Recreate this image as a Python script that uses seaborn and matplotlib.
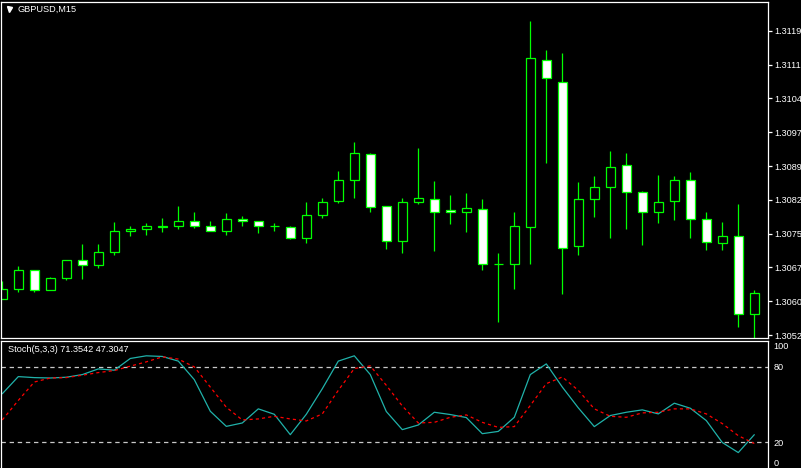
import numpy as np
import pandas as pd
import matplotlib
matplotlib.use("Agg")
import matplotlib.pyplot as plt
import matplotlib.transforms as mtransforms
import seaborn as sns

# ---------------- data ----------------
opens = [1.30601, 1.30623, 1.30664, 1.30620, 1.30647, 1.30686, 1.30675, 1.30704,
         1.30750, 1.30755, 1.30759, 1.30763, 1.30774, 1.30761, 1.30750, 1.30777,
         1.30772, 1.30761, 1.30759, 1.30736, 1.30786, 1.30816, 1.30863, 1.30920,
         1.30805, 1.30730, 1.30814, 1.30821, 1.30797, 1.30792, 1.30799, 1.30678,
         1.30678, 1.30759, 1.31127, 1.31080, 1.30717, 1.30821, 1.30847, 1.30896,
         1.30836, 1.30792, 1.30816, 1.30863, 1.30777, 1.30724, 1.30741, 1.30568]
highs = [1.30641, 1.30674, 1.30665, 1.30650, 1.30686, 1.30722, 1.30722, 1.30770,
         1.30763, 1.30768, 1.30779, 1.30805, 1.30792, 1.30772, 1.30790, 1.30783,
         1.30774, 1.30768, 1.30763, 1.30814, 1.30823, 1.30882, 1.30946, 1.30922,
         1.30805, 1.30823, 1.30933, 1.30860, 1.30830, 1.30834, 1.30821, 1.30702,
         1.30792, 1.31213, 1.31149, 1.31143, 1.30858, 1.30871, 1.30926, 1.30922,
         1.30838, 1.30874, 1.30871, 1.30880, 1.30792, 1.30770, 1.30811, 1.30620]
lows = [1.30601, 1.30617, 1.30617, 1.30620, 1.30642, 1.30646, 1.30670, 1.30698,
        1.30741, 1.30743, 1.30749, 1.30756, 1.30758, 1.30750, 1.30743, 1.30763,
        1.30747, 1.30752, 1.30734, 1.30725, 1.30780, 1.30813, 1.30824, 1.30793,
        1.30712, 1.30703, 1.30811, 1.30708, 1.30767, 1.30749, 1.30664, 1.30551,
        1.30624, 1.30678, 1.30901, 1.30613, 1.30697, 1.30782, 1.30736, 1.30756,
        1.30721, 1.30769, 1.30776, 1.30736, 1.30710, 1.30710, 1.30539, 1.30516]
closes = [1.30623, 1.30664, 1.30620, 1.30647, 1.30686, 1.30675, 1.30704, 1.30750,
          1.30755, 1.30761, 1.30763, 1.30774, 1.30763, 1.30750, 1.30777, 1.30772,
          1.30763, 1.30761, 1.30736, 1.30786, 1.30814, 1.30863, 1.30922, 1.30803,
          1.30730, 1.30814, 1.30823, 1.30792, 1.30792, 1.30801, 1.30678, 1.30678,
          1.30761, 1.31131, 1.31087, 1.30713, 1.30821, 1.30847, 1.30891, 1.30836,
          1.30792, 1.30814, 1.30863, 1.30777, 1.30726, 1.30741, 1.30568, 1.30614]

stoch_k = [58.7, 72.3, 71.5, 71.2, 71.8, 73.9, 78.4, 77.4, 86.7, 88.8, 88.3, 84.6,
           69.9, 44.8, 32.8, 35.5, 46.7, 42.4, 26.2, 42.4, 62.7, 84.6, 88.8, 73.9,
           44.6, 30.2, 33.9, 44.0, 42.2, 39.8, 27.0, 28.8, 40.0, 73.9, 82.4, 64.0,
           47.5, 32.6, 41.4, 44.0, 45.9, 42.7, 51.2, 47.2, 37.4, 20.0, 12.0, 26.2]
stoch_d = [37.9, 53.4, 68.0, 71.2, 71.5, 73.4, 75.5, 77.1, 80.6, 84.0, 88.0, 86.2,
           80.0, 64.0, 48.0, 37.9, 38.7, 40.8, 38.7, 37.1, 42.7, 61.4, 78.7, 80.8,
           65.4, 49.0, 35.5, 36.0, 40.0, 41.9, 36.0, 32.0, 32.6, 49.4, 66.7, 72.0,
           61.4, 46.7, 40.8, 40.0, 43.5, 44.0, 46.7, 46.7, 42.7, 35.0, 25.4, 19.2]

price_tick_labels = ['1.3052', '1.3060', '1.3067', '1.3075', '1.3082',
                     '1.3089', '1.3097', '1.3104', '1.3111', '1.3119']
stoch_levels = [20, 80]
stoch_level_labels = ['20', '80']
stoch_edge_labels = ['0', '100']
symbol_title = 'GBPUSD,M15'
stoch_title = 'Stoch(5,3,3) 71.3542 47.3047'

# ---------------- style ----------------
sns.set_theme(style="dark")
plt.rcParams['font.family'] = ['Liberation Sans', 'DejaVu Sans']
BG = 'black'
GREEN = '#00FF00'
FS = 6.6

W, H = 801, 468
fig = plt.figure(figsize=(W / 100, H / 100), dpi=100, facecolor=BG)

def frac_box(x0, y0, x1, y1):
    return [x0 / W, 1 - y1 / H, (x1 - x0) / W, (y1 - y0) / H]

ax = fig.add_axes(frac_box(1, 1.7, 767.5, 338.3))
ax2 = fig.add_axes(frac_box(1, 340.7, 767.5, 468.5))

for a in (ax, ax2):
    a.set_facecolor(BG)
    a.grid(False)
    for s in a.spines.values():
        s.set_color('white')
        s.set_linewidth(0.9)
ax2.spines['bottom'].set_visible(False)

# ---------------- candles ----------------
n = len(opens)
x = np.arange(n)
o = np.array(opens); c = np.array(closes)
hi = np.array(highs); lo = np.array(lows)
bottoms = np.minimum(o, c)
heights = np.abs(c - o)
faces = ['white' if cc < oo else 'black' for oo, cc in zip(o, c)]

ax.vlines(x, lo, hi, color=GREEN, linewidth=0.9, zorder=1)
ax.bar(x, heights, bottom=bottoms, width=0.6, color=faces,
       edgecolor=GREEN, linewidth=0.9, zorder=2)

# price scale
base, step = 1.30522, 0.000744
px = step / 33.8
ax.set_xlim((1 - 2.3) / 16, (767.5 - 2.3) / 16)
ax.set_ylim(base - 3.3 * px, base + 333.3 * px)
ax.set_xticks([])
ax.yaxis.tick_right()
ax.set_yticks([base + i * step for i in range(len(price_tick_labels))])
ax.set_yticklabels(price_tick_labels)
ax.tick_params(axis='y', colors='white', labelcolor='white', length=3,
               width=0.9, pad=2, labelsize=FS)

# title
ax.plot([(8.5 - 1) / 766.5], [1 - (9.5 - 1.7) / 336.6], marker='v', ms=3.6,
        color='white', transform=ax.transAxes, clip_on=False, lw=0)
fig.text(17.3 / W, 1 - 9.4 / H, symbol_title, color='white', fontsize=FS,
         va='center', ha='left')

# ---------------- stochastic ----------------
df = pd.DataFrame({'bar': x, 'K': stoch_k, 'D': stoch_d})
sns.lineplot(data=df, x='bar', y='K', ax=ax2, color='#20B2AA', linewidth=0.9)
sns.lineplot(data=df, x='bar', y='D', ax=ax2, color='#FF0000', linewidth=0.9,
             linestyle=(0, (2.5, 2.5)))
for lvl in stoch_levels:
    ax2.axhline(lvl, color='#C8C8C8', linewidth=0.9, linestyle=(0, (3.5, 3)), zorder=0)

ax2.set_xlim(ax.get_xlim())
ax2.set_ylim(-0.64, 100.8)
ax2.set_xlabel('')
ax2.set_ylabel('')
ax2.set_xticks([])
ax2.yaxis.tick_right()
ax2.set_yticks(stoch_levels)
ax2.set_yticklabels(stoch_level_labels)
ax2.tick_params(axis='y', colors='white', labelcolor='white', length=0,
                pad=4.2, labelsize=FS)
trans = mtransforms.blended_transform_factory(ax2.transAxes, ax2.transData)
ax2.text(1 + 4.2 / 766.5 * 1.39, 0, stoch_edge_labels[0], transform=trans,
         color='white', fontsize=FS, va='bottom', ha='left')
ax2.text(1 + 4.2 / 766.5 * 1.39, 100, stoch_edge_labels[1], transform=trans,
         color='white', fontsize=FS, va='top', ha='left')
ax2.text(6.7 / 766.5, 1 - (349.3 - 340.7) / 127.8, stoch_title, transform=ax2.transAxes,
         color='white', fontsize=FS, va='center', ha='left')

fig.savefig('out.png', dpi=100, facecolor=BG)
